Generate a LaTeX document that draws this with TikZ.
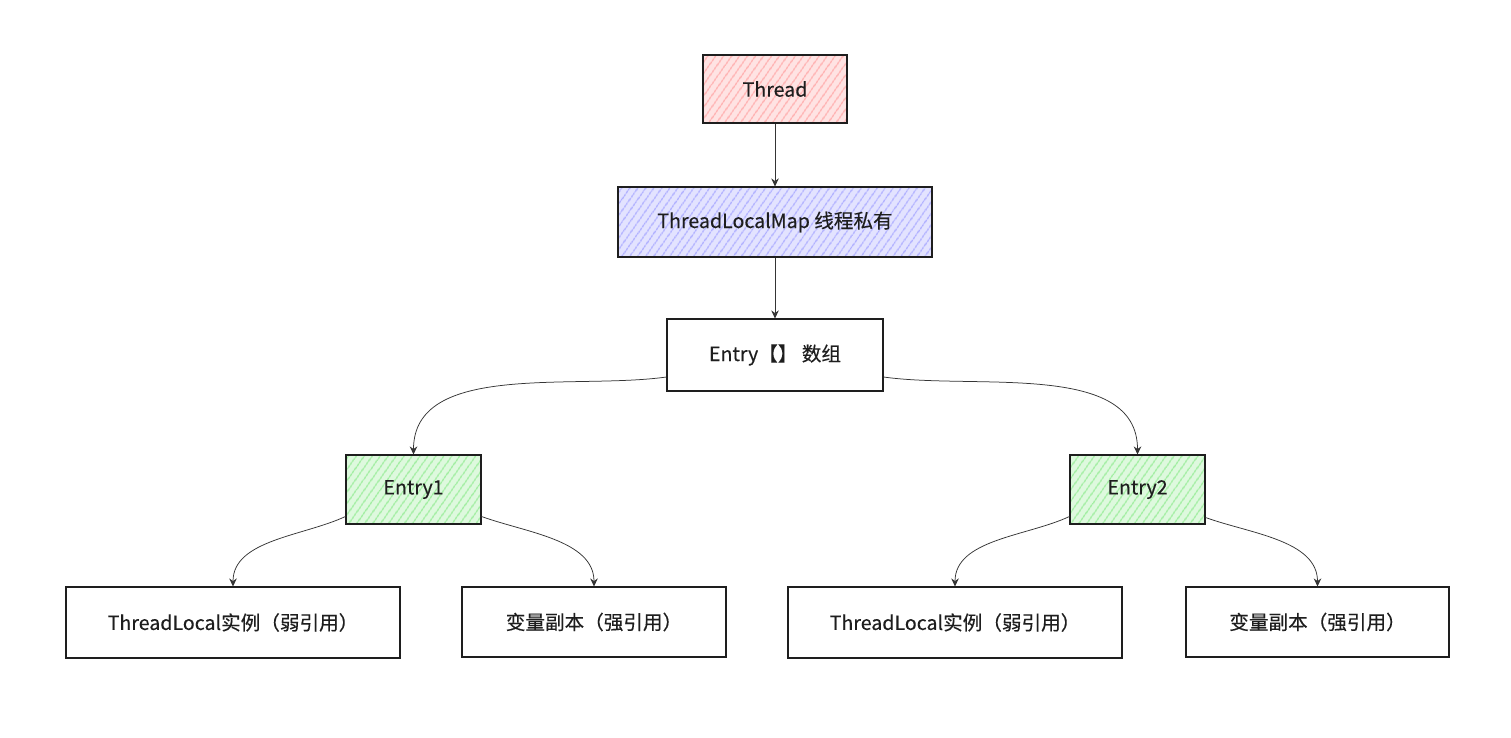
\documentclass[tikz,border=0pt]{standalone}
\usepackage{fontspec}
\setmainfont{Noto Sans CJK SC}[FakeBold=0.3]
\usetikzlibrary{arrows.meta,patterns.meta}
\definecolor{pinkf}{HTML}{FFB0B0}
\definecolor{bluef}{HTML}{B0B0FF}
\definecolor{greenf}{HTML}{A0EEA0}
\definecolor{ink}{HTML}{1E1E1E}
\tikzset{
  box/.style={draw=ink, line width=1.1pt, text=ink, inner sep=0pt,
    font=\fontsize{19.6}{23}\selectfont},
  hatch/.style={preaction={fill=#1!35}, pattern={Lines[angle=55,distance=6.5pt,line width=1.6pt]}, pattern color=#1},
  arr/.style={draw=ink!90, line width=0.75pt, -{Stealth[length=8pt,width=7.5pt]}},
}
\begin{document}
\begin{tikzpicture}[x=1pt,y=-1pt]
\useasboundingbox (0,0) rectangle (1511,738);
\fill[white] (0,0) rectangle (1511,738);

\node[box, hatch=pinkf, minimum width=144pt, minimum height=68pt] (thread) at (775,89) {Thread};
\node[box, hatch=bluef, minimum width=314pt, minimum height=70pt] (tlm) at (775,222) {ThreadLocalMap 线程私有};
\node[box, fill=white, minimum width=216pt, minimum height=72pt] (arr) at (775,355) {Entry【】 数组};
\node[box, hatch=greenf, minimum width=135pt, minimum height=69pt] (e1) at (413.5,489.5) {Entry1};
\node[box, hatch=greenf, minimum width=135pt, minimum height=69pt] (e2) at (1137.5,489.5) {Entry2};
\node[box, minimum width=334pt, minimum height=71pt] (tl1) at (233,622.5) {ThreadLocal实例（弱引用）};
\node[box, minimum width=264pt, minimum height=70pt] (v1) at (594,622) {变量副本（强引用）};
\node[box, minimum width=334pt, minimum height=71pt] (tl2) at (955,622.5) {ThreadLocal实例（弱引用）};
\node[box, minimum width=263pt, minimum height=70pt] (v2) at (1317.5,622) {变量副本（强引用）};

\draw[arr] (thread.south) -- (tlm.north);
\draw[arr] (tlm.south) -- (arr.north);
\draw[arr] ([yshift=-22pt]arr.west) to[out=188,in=90,looseness=0.9] (e1.north);
\draw[arr] ([yshift=-22pt]arr.east) to[out=-8,in=90,looseness=0.9] (e2.north);
\draw[arr] ([yshift=-27pt]e1.west) to[out=205,in=90,looseness=0.9] (tl1.north);
\draw[arr] ([yshift=-27pt]e1.east) to[out=-20,in=90,looseness=0.9] (v1.north);
\draw[arr] ([yshift=-27pt]e2.west) to[out=205,in=90,looseness=0.9] (tl2.north);
\draw[arr] ([yshift=-28pt]e2.east) to[out=-20,in=90,looseness=0.9] (v2.north);
\end{tikzpicture}
\end{document}
